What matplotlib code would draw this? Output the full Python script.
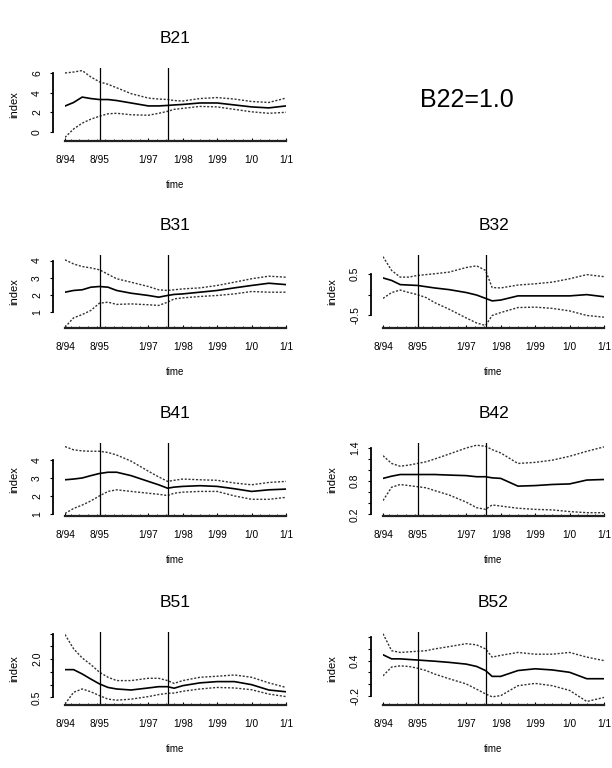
import matplotlib
matplotlib.use("Agg")
import matplotlib.pyplot as plt
from matplotlib.ticker import FixedLocator, FixedFormatter, MultipleLocator

plt.rcParams['font.family'] = ['Liberation Sans', 'DejaVu Sans']

# time grid (decimal years)
dates = [1994.58, 1994.83, 1995.08, 1995.33, 1995.58, 1995.83, 1996.08, 1996.5,
         1997.0, 1997.3, 1997.56, 1997.75, 1998.0, 1998.5, 1999.0, 1999.5,
         2000.0, 2000.5, 2001.0]
x_tick_pos = [1994.583, 1995.583, 1997.0, 1998.0, 1999.0, 2000.0, 2001.0]
x_tick_labels = ['8/94', '8/95', '1/97', '1/98', '1/99', '1/0', '1/1']
breaks = [1995.583, 1997.56]

b21_est = [2.64, 3.0, 3.55, 3.4, 3.3, 3.3, 3.2, 2.95, 2.65, 2.65, 2.7, 2.75, 2.8, 2.95, 2.95, 2.75, 2.55, 2.45, 2.65]
b21_hi = [6.0, 6.1, 6.25, 5.6, 5.1, 4.85, 4.5, 3.9, 3.45, 3.35, 3.3, 3.2, 3.15, 3.4, 3.5, 3.35, 3.1, 3.0, 3.45]
b21_lo = [-0.55, 0.3, 0.9, 1.3, 1.6, 1.85, 1.9, 1.75, 1.7, 1.9, 2.1, 2.3, 2.4, 2.6, 2.55, 2.3, 2.05, 1.9, 2.0]

b31_est = [2.16, 2.26, 2.3, 2.45, 2.49, 2.45, 2.26, 2.1, 1.97, 1.87, 1.97, 2.03, 2.06, 2.16, 2.26, 2.41, 2.55, 2.68, 2.6]
b31_hi = [4.04, 3.8, 3.65, 3.57, 3.46, 3.2, 2.94, 2.74, 2.49, 2.3, 2.26, 2.3, 2.35, 2.41, 2.55, 2.74, 2.94, 3.09, 3.03]
b31_lo = [0.13, 0.67, 0.86, 1.1, 1.52, 1.58, 1.45, 1.48, 1.43, 1.39, 1.58, 1.77, 1.83, 1.91, 1.97, 2.06, 2.2, 2.16, 2.16]

b32_est = [0.40, 0.34, 0.24, 0.23, 0.22, 0.19, 0.16, 0.12, 0.05, -0.01, -0.09, -0.15, -0.13, -0.03, -0.03, -0.03, -0.03, 0.0, -0.05]
b32_hi = [0.91, 0.58, 0.42, 0.42, 0.46, 0.48, 0.5, 0.54, 0.65, 0.69, 0.58, 0.17, 0.16, 0.23, 0.26, 0.30, 0.38, 0.48, 0.43]
b32_lo = [-0.09, 0.05, 0.11, 0.05, 0.0, -0.07, -0.19, -0.35, -0.56, -0.68, -0.74, -0.5, -0.43, -0.31, -0.30, -0.33, -0.39, -0.5, -0.54]

b41_est = [2.9, 2.94, 3.0, 3.13, 3.25, 3.32, 3.32, 3.13, 2.81, 2.62, 2.43, 2.49, 2.53, 2.57, 2.53, 2.4, 2.25, 2.34, 2.38]
b41_hi = [4.75, 4.57, 4.51, 4.49, 4.49, 4.42, 4.28, 3.94, 3.38, 3.06, 2.81, 2.87, 2.94, 2.9, 2.87, 2.72, 2.62, 2.75, 2.81]
b41_lo = [1.02, 1.3, 1.49, 1.72, 2.0, 2.25, 2.34, 2.25, 2.15, 2.09, 2.02, 2.15, 2.21, 2.25, 2.25, 2.0, 1.81, 1.81, 1.92]

b42_est = [0.85, 0.89, 0.92, 0.92, 0.92, 0.92, 0.92, 0.91, 0.90, 0.88, 0.88, 0.86, 0.85, 0.71, 0.72, 0.74, 0.75, 0.82, 0.83]
b42_hi = [1.26, 1.12, 1.07, 1.09, 1.12, 1.15, 1.2, 1.29, 1.4, 1.45, 1.43, 1.37, 1.31, 1.12, 1.14, 1.18, 1.25, 1.34, 1.42]
b42_lo = [0.45, 0.69, 0.74, 0.72, 0.7, 0.68, 0.63, 0.55, 0.42, 0.32, 0.29, 0.37, 0.35, 0.31, 0.29, 0.28, 0.25, 0.23, 0.23]

b51_est = [1.59, 1.59, 1.42, 1.22, 1.03, 0.89, 0.83, 0.79, 0.87, 0.92, 0.92, 0.86, 0.96, 1.07, 1.12, 1.12, 1.0, 0.79, 0.72]
b51_hi = [2.97, 2.41, 2.05, 1.79, 1.49, 1.29, 1.16, 1.16, 1.25, 1.25, 1.16, 1.05, 1.16, 1.29, 1.33, 1.38, 1.29, 1.07, 0.89]
b51_lo = [0.24, 0.7, 0.83, 0.72, 0.57, 0.43, 0.39, 0.43, 0.53, 0.61, 0.66, 0.67, 0.74, 0.83, 0.89, 0.87, 0.8, 0.63, 0.53]

b52_est = [0.5, 0.43, 0.43, 0.42, 0.41, 0.4, 0.39, 0.37, 0.34, 0.3, 0.23, 0.13, 0.13, 0.23, 0.26, 0.24, 0.2, 0.09, 0.09]
b52_hi = [0.86, 0.57, 0.54, 0.55, 0.56, 0.57, 0.6, 0.64, 0.69, 0.67, 0.6, 0.46, 0.49, 0.54, 0.51, 0.51, 0.54, 0.46, 0.4]
b52_lo = [0.14, 0.29, 0.31, 0.3, 0.27, 0.23, 0.17, 0.09, 0.0, -0.09, -0.17, -0.22, -0.2, -0.03, 0.01, -0.03, -0.11, -0.3, -0.23]

W, H = 612, 768
fig = plt.figure(figsize=(W / 100, H / 100), dpi=100)


def panel(left_px, top_px, title, est, hi, lo, yticks, ylabels, ylim):
    ax = fig.add_axes([left_px / W, 1 - (top_px + 73) / H, 221 / W, 73 / H])
    ax.plot(dates, est, color='black', lw=1.2)
    ax.plot(dates, hi, color='#333333', lw=1.0, ls=(0, (1.5, 1.2)))
    ax.plot(dates, lo, color='#333333', lw=1.0, ls=(0, (1.5, 1.2)))
    for b in breaks:
        ax.axvline(b, color='black', lw=0.9)
    ax.set_xlim(dates[0], dates[-1])
    ax.set_ylim(*ylim)

    for s in ['top', 'right']:
        ax.spines[s].set_visible(False)
    ax.spines['left'].set_position(('outward', 9))
    ax.spines['left'].set_bounds(yticks[0], yticks[-1])
    ax.spines['left'].set_linewidth(1.3)
    ax.spines['bottom'].set_linewidth(1.6)
    ax.spines['bottom'].set_color('#222222')

    ax.xaxis.set_major_locator(FixedLocator(x_tick_pos))
    ax.xaxis.set_major_formatter(FixedFormatter(x_tick_labels))
    ax.xaxis.set_minor_locator(MultipleLocator(0.25))
    ax.tick_params(axis='x', which='major', length=2, direction='in', pad=10, labelsize=7.3)
    ax.tick_params(axis='x', which='minor', length=1.5, direction='in')

    ax.yaxis.set_major_locator(FixedLocator(yticks))
    ax.yaxis.set_major_formatter(FixedFormatter(ylabels))
    ax.tick_params(axis='y', length=2.5, width=0.8, pad=5, labelsize=7.5)
    for t in ax.get_yticklabels():
        t.set_rotation(90)
        t.set_va('center')

    ax.set_title(title, fontsize=12.5, pad=18)
    ax.set_xlabel('time', fontsize=7, labelpad=11)
    ax.set_ylabel('index', fontsize=8, labelpad=9)
    return ax


panel(65, 68, 'B21', b21_est, b21_hi, b21_lo,
      [0, 2, 4, 6], ['0', '2', '4', '6'], (-0.92, 6.51))
fig.text(467 / W, 1 - 100 / H, 'B22=1.0', fontsize=18, ha='center', va='center')

panel(65, 255, 'B31', b31_est, b31_hi, b31_lo,
      [1, 2, 3, 4], ['1', '2', '3', '4'], (0.08, 4.32))
panel(383, 255, 'B32', b32_est, b32_hi, b32_lo,
      [-0.5, 0.0, 0.5], ['-0.5', '', '0.5'], (-0.80, 0.95))

panel(65, 443, 'B41', b41_est, b41_hi, b41_lo,
      [1, 2, 3, 4], ['1', '2', '3', '4'], (0.88, 4.95))
panel(383, 443, 'B42', b42_est, b42_hi, b42_lo,
      [0.2, 0.4, 0.6, 0.8, 1.0, 1.2, 1.4], ['0.2', '', '', '0.8', '', '', '1.4'], (0.17, 1.49))

panel(65, 632, 'B51', b51_est, b51_hi, b51_lo,
      [0.5, 1.0, 1.5, 2.0, 2.5, 3.0], ['0.5', '', '', '2.0', '', ''], (0.2, 3.07))
panel(383, 632, 'B52', b52_est, b52_hi, b52_lo,
      [-0.2, 0.0, 0.2, 0.4, 0.6, 0.8], ['-0.2', '', '', '0.4', '', ''], (-0.36, 0.89))

fig.savefig('out.png', dpi=100)
